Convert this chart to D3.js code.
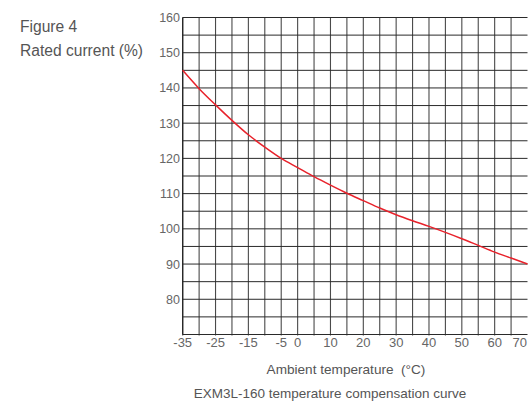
<!DOCTYPE html>
<html>
<head>
<meta charset="utf-8">
<script src="https://cdn.jsdelivr.net/npm/d3@7"></script>
<style>
  html, body { margin: 0; padding: 0; background: #fff; }
  svg { display: block; font-family: "Liberation Sans", Arial, sans-serif; }
  text { white-space: pre; }
</style>
</head>
<body>
<svg id="chart" width="528" height="410"></svg>
<script>
// ---- data ----
const temperatures = [-35, -30, -25, -20, -15, -10, -5, 0, 5, 10, 15, 20, 25, 30, 35, 40, 45, 50, 55, 60, 65, 70];
const ratedCurrent = [145, 139.8, 135.2, 130.8, 126.7, 123.2, 120, 117.4, 114.8, 112.4, 110.1, 108, 105.9, 104, 102.3, 100.7, 99, 97.2, 95.3, 93.4, 91.7, 90];
const xTickLabels = [-35, -25, -15, -5, 0, 10, 20, 30, 40, 50, 60, 70];
const yTickLabels = [80, 90, 100, 110, 120, 130, 140, 150, 160];
const xGridValues = d3.range(-35, 66, 5);
const yGridValues = d3.range(70, 161, 5);

const svg = d3.select("#chart");
const pLeft = 182.7, pRight = 527.5, pTop = 17.5, pBottom = 334.5;

const x = d3.scaleLinear().domain([-35, 70]).range([pLeft, pRight]);
const y = d3.scaleLinear().domain([70, 160]).range([pBottom, pTop]);

// vertical grid
svg.append("g").selectAll("line").data(xGridValues).join("line")
  .attr("x1", d => x(d)).attr("x2", d => x(d))
  .attr("y1", pTop).attr("y2", pBottom + 1)
  .attr("stroke", "#4a4a4a").attr("stroke-width", 1.1);

// horizontal grid
svg.append("g").selectAll("line").data(yGridValues).join("line")
  .attr("x1", pLeft).attr("x2", pRight)
  .attr("y1", d => y(d)).attr("y2", d => y(d))
  .attr("stroke", "#2a2a2a").attr("stroke-width", 1);

// left axis line
svg.append("line").attr("x1", pLeft).attr("x2", pLeft).attr("y1", pTop).attr("y2", pBottom)
  .attr("stroke", "#222").attr("stroke-width", 1.2);

// curve
const line = d3.line().x((d, i) => x(temperatures[i])).y(d => y(d)).curve(d3.curveMonotoneX);
svg.append("path").datum(ratedCurrent)
  .attr("d", line).attr("fill", "none")
  .attr("stroke", "#e8222b").attr("stroke-width", 1.5);

// y tick labels
svg.append("g").selectAll("text").data(yTickLabels).join("text")
  .attr("x", 180).attr("y", d => y(d)).attr("dy", "0.36em")
  .attr("text-anchor", "end").attr("font-size", 12.5).attr("fill", "#666")
  .text(d => d);

// x tick labels
svg.append("g").selectAll("text").data(xTickLabels).join("text")
  .attr("x", (d, i) => i === xTickLabels.length - 1 ? pRight - 0.5 : x(d))
  .attr("y", 346.5)
  .attr("text-anchor", (d, i) => i === xTickLabels.length - 1 ? "end" : "middle")
  .attr("font-size", 13).attr("fill", "#666")
  .text(d => d);

// titles
svg.append("text").attr("x", 20).attr("y", 32).attr("font-size", 15.6).attr("fill", "#555").text("Figure 4");
svg.append("text").attr("x", 20).attr("y", 56).attr("font-size", 15.6).attr("fill", "#555").text("Rated current (%)");
svg.append("text").attr("x", 346).attr("y", 374).attr("text-anchor", "middle")
  .attr("font-size", 13.6).attr("fill", "#555").text("Ambient temperature  (°C)");
svg.append("text").attr("x", 330).attr("y", 398).attr("text-anchor", "middle")
  .attr("font-size", 13.5).attr("fill", "#555").text("EXM3L-160 temperature compensation curve");
</script>
</body>
</html>
